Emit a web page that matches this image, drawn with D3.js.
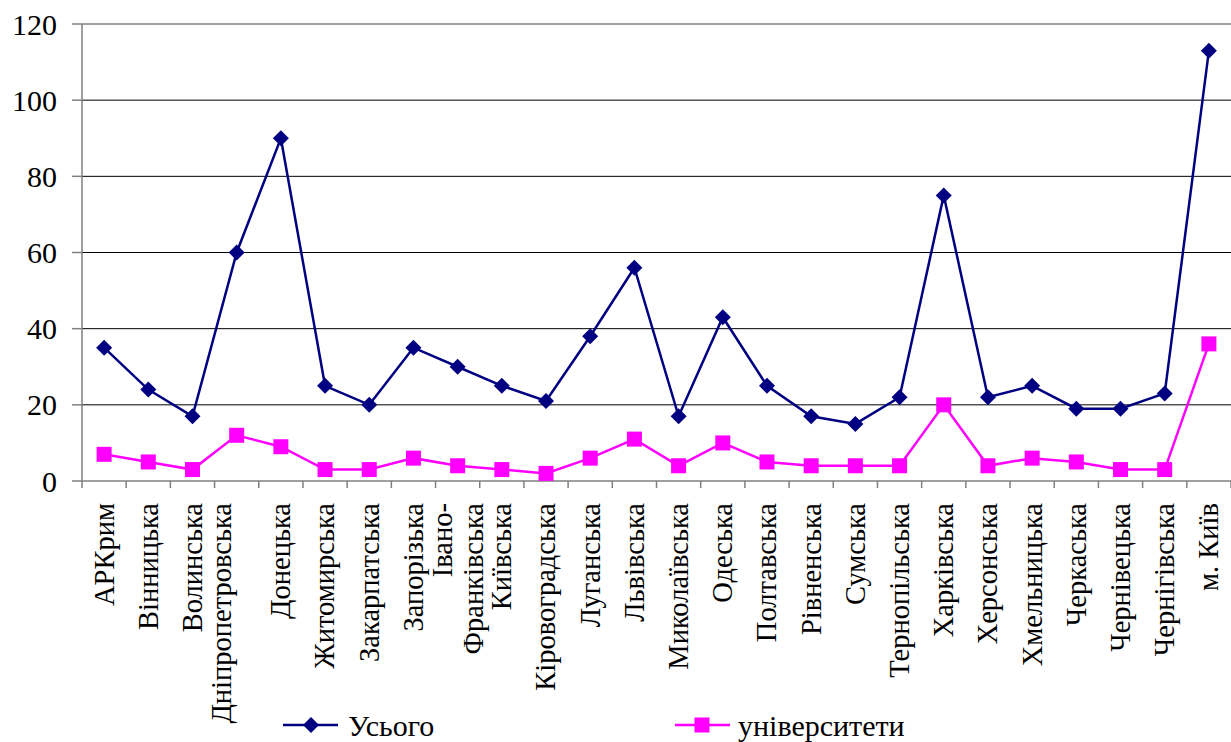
<!DOCTYPE html>
<html>
<head>
<meta charset="utf-8">
<script src="https://cdn.jsdelivr.net/npm/d3@7"></script>
<style>
  body { margin: 0; background: #fff; }
</style>
</head>
<body>
<svg width="1231" height="742"></svg>
<script>
// regions (tick labels, "\n" = wrapped line)
const regions = ["АРКрим", "Вінницька", "Волинська", "Дніпропетровська\n", "Донецька",
  "Житомирська", "Закарпатська", "Запорізька", "Івано-\nФранківська", "Київська",
  "Кіровоградська", "Луганська", "Львівська", "Миколаївська", "Одеська",
  "Полтавська", "Рівненська", "Сумська", "Тернопільська", "Харківська",
  "Херсонська", "Хмельницька", "Черкаська", "Чернівецька", "Чернігівська", "м. Київ"];

const total = [35, 24, 17, 60, 90, 25, 20, 35, 30, 25, 21, 38, 56, 17, 43, 25, 17, 15, 22, 75, 22, 25, 19, 19, 23, 113];
const universities = [7, 5, 3, 12, 9, 3, 3, 6, 4, 3, 2, 6, 11, 4, 10, 5, 4, 4, 4, 20, 4, 6, 5, 3, 3, 36];

const yTicks = [0, 20, 40, 60, 80, 100, 120];
const seriesNames = ["Усього", "університети"];

const svg = d3.select("svg");
const pLeft = 82, pRight = 1231, pTop = 24, pBottom = 481;
const serif = '"Liberation Serif"';

const x = d3.scaleBand().domain(d3.range(regions.length)).range([pLeft, pRight]);
const y = d3.scaleLinear().domain([0, 120]).range([pBottom, pTop]);
const cx = i => x(i) + x.bandwidth() / 2;

// gridlines
svg.selectAll(".grid").data(yTicks.filter(t => t > 0)).enter()
  .append("line")
  .attr("x1", pLeft).attr("x2", pRight)
  .attr("y1", d => y(d)).attr("y2", d => y(d))
  .attr("stroke", d => d == 120 ? "#808080" : "#000")
  .attr("stroke-width", d => d == 120 ? 1.5 : 1);

// y axis
svg.append("line").attr("x1", pLeft).attr("x2", pLeft).attr("y1", pTop).attr("y2", pBottom)
  .attr("stroke", "#808080").attr("stroke-width", 1.5);
svg.selectAll(".ytick").data(yTicks).enter()
  .append("line")
  .attr("x1", pLeft - 10).attr("x2", pLeft)
  .attr("y1", d => y(d)).attr("y2", d => y(d))
  .attr("stroke", "#808080").attr("stroke-width", 1.5);
svg.selectAll(".ylab").data(yTicks).enter()
  .append("text")
  .attr("x", 57).attr("y", d => y(d))
  .attr("dy", "0.35em")
  .attr("text-anchor", "end")
  .style("font-family", serif)
  .style("font-size", "30px")
  .text(d => d);

// x axis
svg.append("line").attr("x1", pLeft).attr("x2", pRight).attr("y1", pBottom).attr("y2", pBottom)
  .attr("stroke", "#808080").attr("stroke-width", 1.5);
svg.selectAll(".xtick").data(d3.range(regions.length + 1)).enter()
  .append("line")
  .attr("x1", i => pLeft + i * x.bandwidth()).attr("x2", i => pLeft + i * x.bandwidth())
  .attr("y1", pBottom).attr("y2", pBottom + 7)
  .attr("stroke", "#808080").attr("stroke-width", 1.5);

const xl = svg.selectAll(".xlab").data(regions).enter()
  .append("g")
  .attr("transform", (d, i) => `translate(${cx(i)},${pBottom})`);
xl.each(function (d) {
  const lines = d.split("\n");
  const t = d3.select(this).append("text")
    .attr("transform", "rotate(-90)")
    .attr("text-anchor", "end")
    .style("font-family", serif)
    .style("font-size", "28.5px");
  lines.forEach((ln, k) => {
    t.append("tspan")
      .attr("x", -22)
      .attr("y", (k - (lines.length - 1) / 2) * 31)
      .attr("dy", "0.33em")
      .text(ln);
  });
});

// series
const line = d3.line().x((d, i) => cx(i)).y(d => y(d));
const navy = "#000080", magenta = "#FF00FF";

svg.append("path").datum(total).attr("d", line)
  .attr("fill", "none").attr("stroke", navy).attr("stroke-width", 2.5);
svg.append("path").datum(universities).attr("d", line)
  .attr("fill", "none").attr("stroke", magenta).attr("stroke-width", 2.5);

const diamond = (px, py, r) => `M${px},${py - r}L${px + r},${py}L${px},${py + r}L${px - r},${py}Z`;

svg.selectAll(".dm").data(total).enter()
  .append("path")
  .attr("d", (d, i) => diamond(cx(i), y(d), 8))
  .attr("fill", navy);
svg.selectAll(".sq").data(universities).enter()
  .append("rect")
  .attr("x", (d, i) => cx(i) - 7.5).attr("y", d => y(d) - 7.5)
  .attr("width", 15).attr("height", 15)
  .attr("fill", magenta);

// legend
const ly = 725;
svg.append("line").attr("x1", 283).attr("x2", 338).attr("y1", ly).attr("y2", ly)
  .attr("stroke", navy).attr("stroke-width", 2.5);
svg.append("path").attr("d", diamond(311, ly, 8)).attr("fill", navy);
svg.append("text").attr("x", 348).attr("y", ly).attr("dy", "0.35em")
  .style("font-family", serif)
  .style("font-size", "30px").text(seriesNames[0]);

svg.append("line").attr("x1", 675).attr("x2", 730).attr("y1", ly).attr("y2", ly)
  .attr("stroke", magenta).attr("stroke-width", 2.5);
svg.append("rect").attr("x", 702 - 7.5).attr("y", ly - 7.5).attr("width", 15).attr("height", 15)
  .attr("fill", magenta);
svg.append("text").attr("x", 738).attr("y", ly).attr("dy", "0.35em")
  .style("font-family", serif)
  .style("font-size", "30px").text(seriesNames[1]);
</script>
</body>
</html>
